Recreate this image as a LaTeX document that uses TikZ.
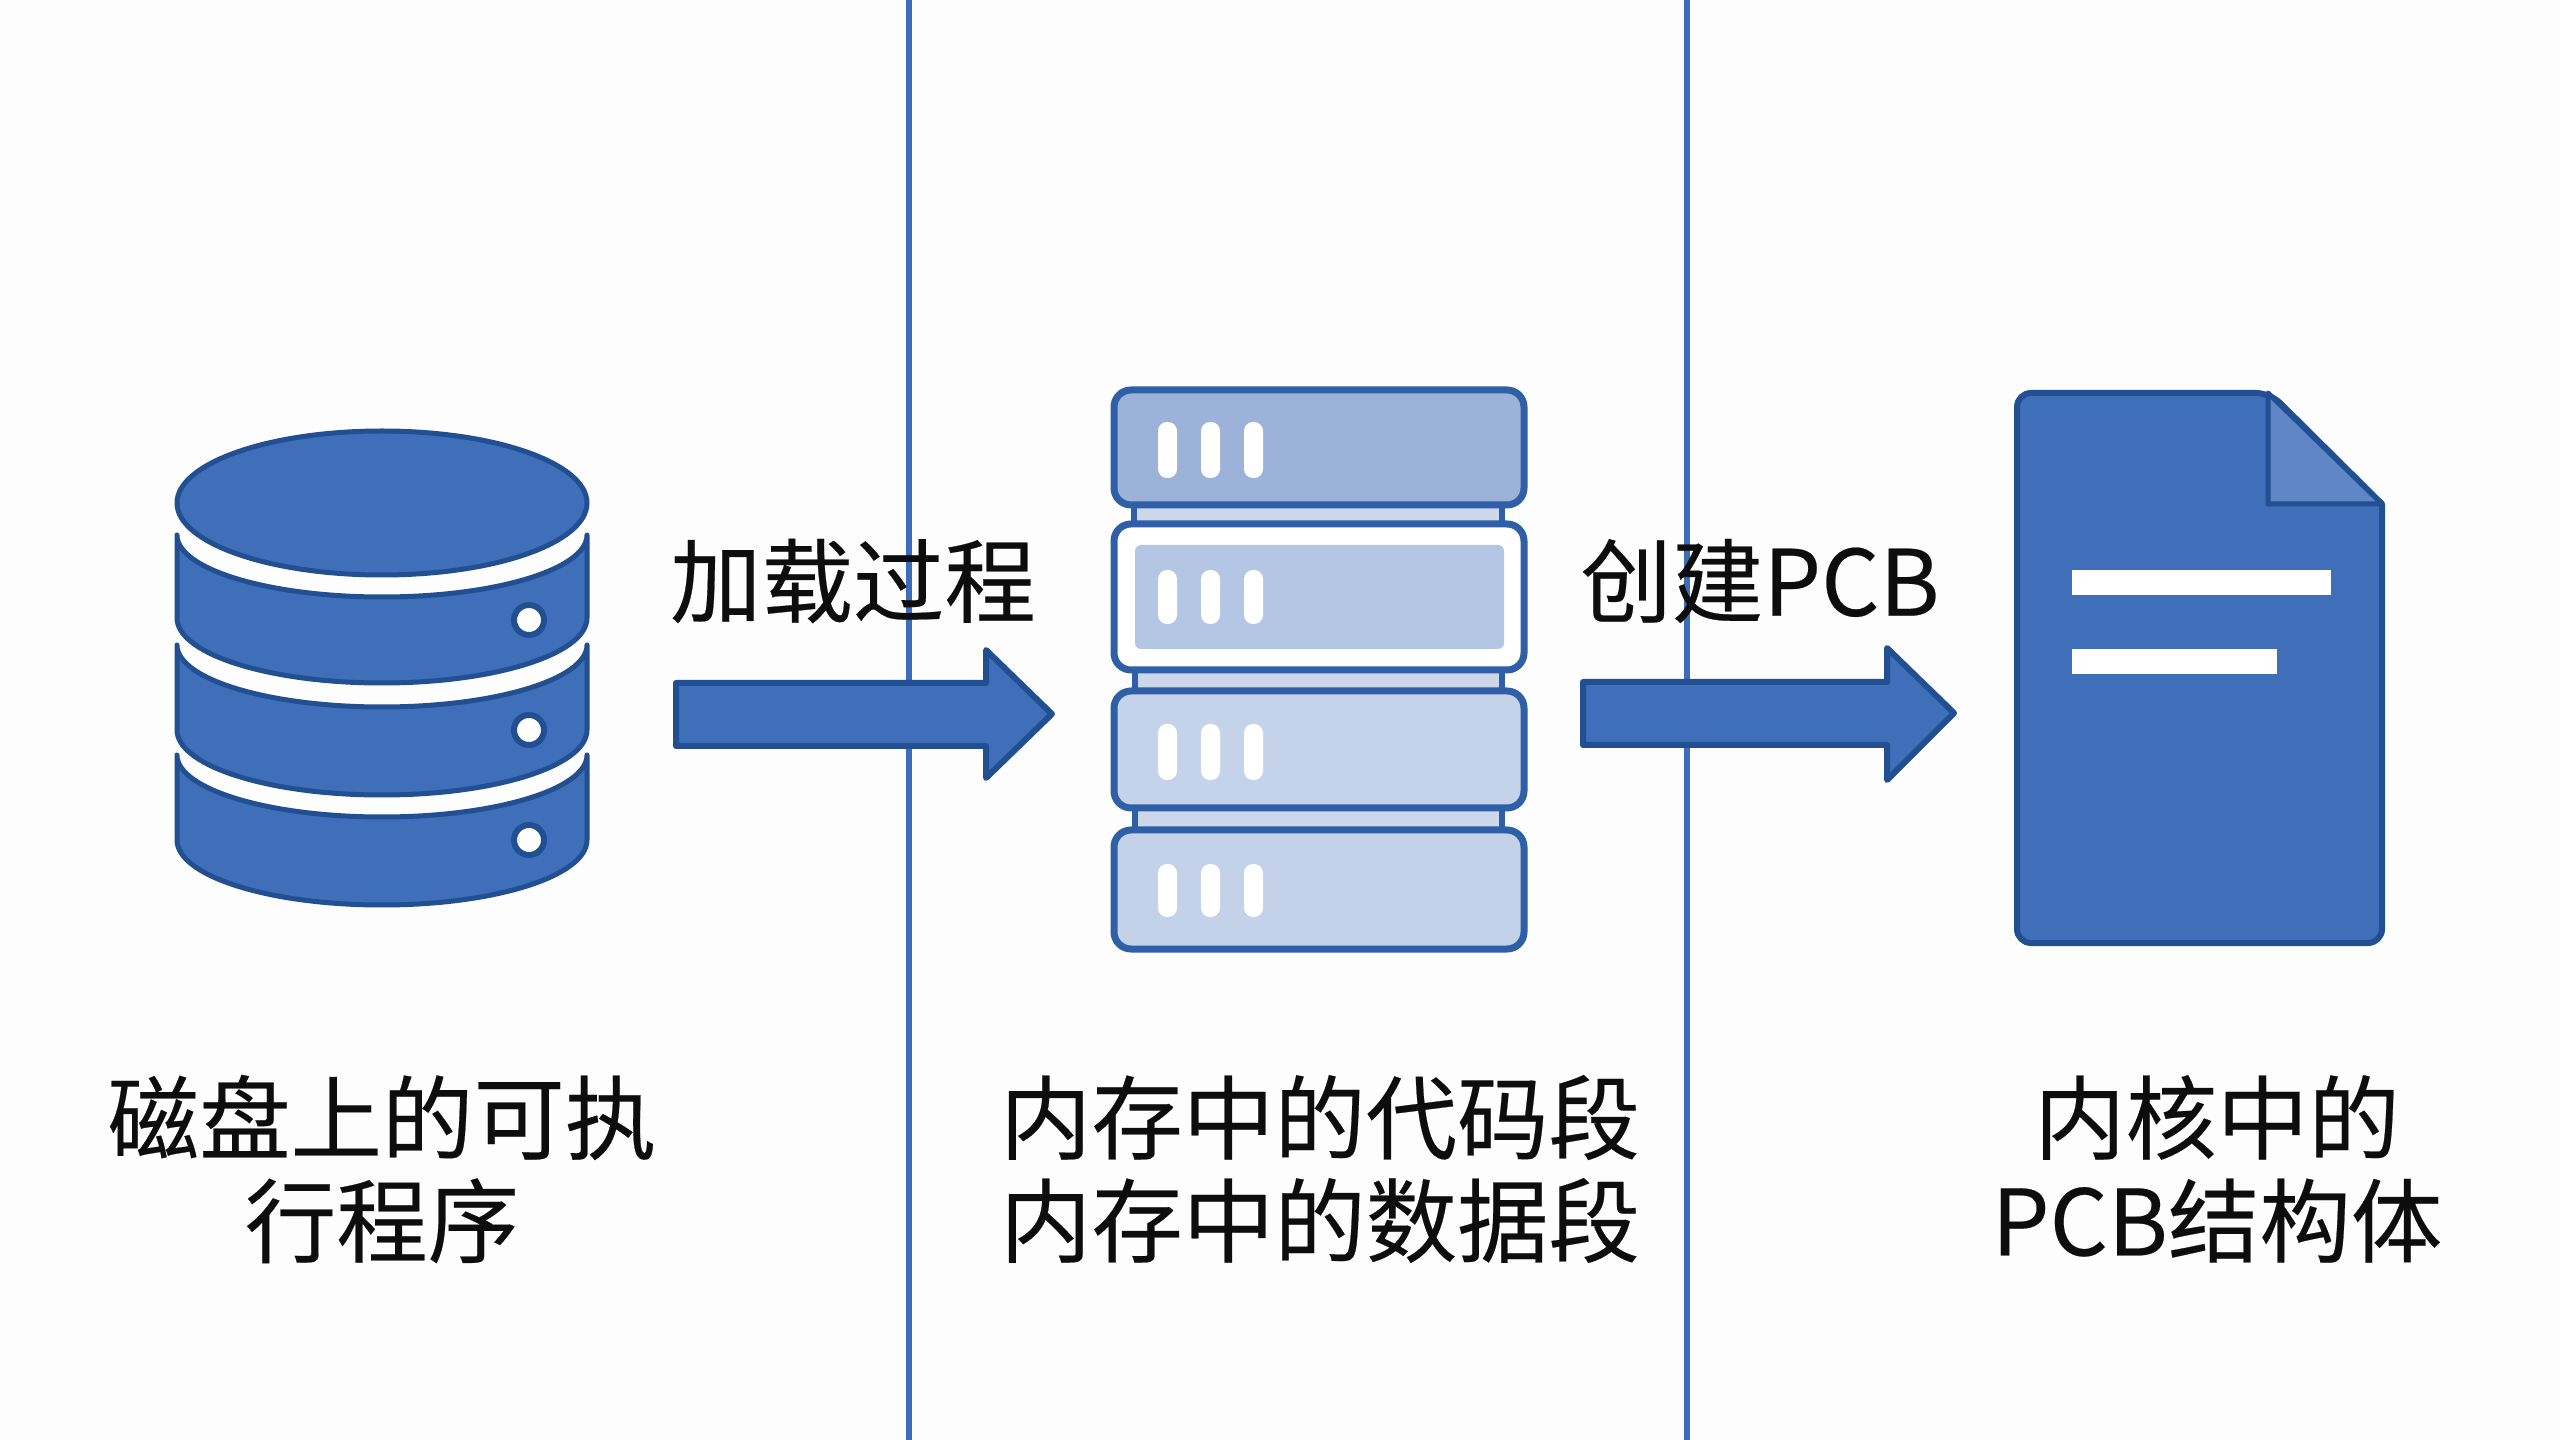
\documentclass[tikz,border=0pt]{standalone}
\usepackage{fontspec}
\setmainfont{Noto Sans CJK SC}
\definecolor{bluefill}{HTML}{3F6FB8}
\definecolor{blueedge}{HTML}{214F91}
\definecolor{divider}{HTML}{3B6DB9}
\definecolor{foldfill}{HTML}{5F86C6}
\definecolor{srvA}{HTML}{9DB2D8}
\definecolor{srvB}{HTML}{B3C6E3}
\definecolor{srvC}{HTML}{C5D3EA}
\definecolor{srvD}{HTML}{C3D2E9}
\definecolor{srvLink}{HTML}{CCD8EA}
\definecolor{srvEdge}{HTML}{2F5FA6}
\definecolor{pagebg}{HTML}{FDFDFD}
\tikzset{
  x=0.01cm, y=-0.01cm,
  px/.style={line width=#1*0.01cm},
  label text/.style={font=\fontsize{26}{29.3}\selectfont\addfontfeature{FakeBold=0.25}, text=black!95, inner sep=0pt, align=center, anchor=center},
  divider line/.style={draw=divider, px=6},
  block/.style={fill=bluefill, draw=blueedge, px=6, line join=round},
  band/.style={fill=bluefill, draw=blueedge, px=5, line join=round},
  hole/.style={fill=white, draw=blueedge, px=6},
  srvbox/.style={draw=srvEdge, px=7, rounded corners=0.17cm},
  srvlink/.style={fill=srvLink, draw=none},
  srvside/.style={draw=srvEdge, px=6},
  pill/.style={fill=white, draw=none, rounded corners=0.09cm},
  docline/.style={fill=white, draw=none},
}
\newcommand{\bandshape}[2]{%
  \path[band] (177,#1) arc[start angle=180,end angle=0,x radius=205,y radius=62]
    -- (587,#2) arc[start angle=0,end angle=180,x radius=205,y radius=65] -- cycle;}
\newcommand{\pills}[2]{%
  \fill[pill] (1158,#1) rectangle (1177,#2);
  \fill[pill] (1201,#1) rectangle (1220,#2);
  \fill[pill] (1244,#1) rectangle (1263,#2);}
\begin{document}
\begin{tikzpicture}
\useasboundingbox (0,0) rectangle (2560,1440);
\fill[pagebg] (0,0) rectangle (2560,1440);
% dividers
\coordinate (d1t) at (909,0); \coordinate (d1b) at (909,1440);
\coordinate (d2t) at (1687,0); \coordinate (d2b) at (1687,1440);
\draw[divider line] (d1t) -- (d1b);
\draw[divider line] (d2t) -- (d2b);
% disk icon
\bandshape{755}{840}
\bandshape{645}{730}
\bandshape{535}{618}
\path[band] (382,503) ellipse[x radius=205,y radius=72];
\path[hole] (529,620) circle[radius=15];
\path[hole] (529,730) circle[radius=15];
\path[hole] (529,840) circle[radius=15];
% server icon: links
\fill[srvlink] (1132,505) rectangle (1504,523);
\fill[srvlink] (1132,670) rectangle (1504,690);
\fill[srvlink] (1132,808) rectangle (1504,829);
\draw[srvside] (1134,505) -- (1134,523) (1502,505) -- (1502,523);
\draw[srvside] (1135,670) -- (1135,690) (1502,670) -- (1502,690);
\draw[srvside] (1135,808) -- (1135,829) (1502,808) -- (1502,829);
% server icon: boxes
\draw[srvbox, fill=srvA] (1114,390) rectangle (1524,505);
\draw[srvbox, fill=white] (1114,524) rectangle (1524,670);
\fill[srvB, rounded corners=0.06cm] (1135,545) rectangle (1504,649);
\draw[srvbox, fill=srvC] (1114,691) rectangle (1524,808);
\draw[srvbox, fill=srvD] (1114,830) rectangle (1524,949);
\pills{422}{478}
\pills{570}{624}
\pills{724}{780}
\pills{864}{917}
% document icon
\path[block, fill=bluefill, rounded corners=0.14cm] (2017,393) -- (2270,393) [sharp corners] -- (2382,504) [rounded corners=0.14cm] -- (2382,943) -- (2017,943) -- cycle;
\path[block, fill=foldfill, px=5] (2268,393) -- (2382,504) -- (2268,504) -- cycle;
\fill[docline] (2072,570) rectangle (2331,595);
\fill[docline] (2072,649) rectangle (2277,674);
% block arrows
\path[block] (676,683) -- (986,683) -- (986,650) -- (1052,714) -- (986,778) -- (986,746) -- (676,746) -- cycle;
\path[block] (1583,682) -- (1887,682) -- (1887,648) -- (1954,713) -- (1887,780) -- (1887,745) -- (1583,745) -- cycle;
% labels
\node[label text] (load) at (853,581) {加载过程};
\node[label text] (pcbmk) at (1760,581) {创建PCB};
\node[label text] (disk) at (382,1169) {磁盘上的可执\\行程序};
\node[label text] (mem) at (1320,1169) {内存中的代码段\\内存中的数据段};
\node[label text] (kern) at (2217,1169) {内核中的\\PCB结构体};
\end{tikzpicture}
\end{document}
